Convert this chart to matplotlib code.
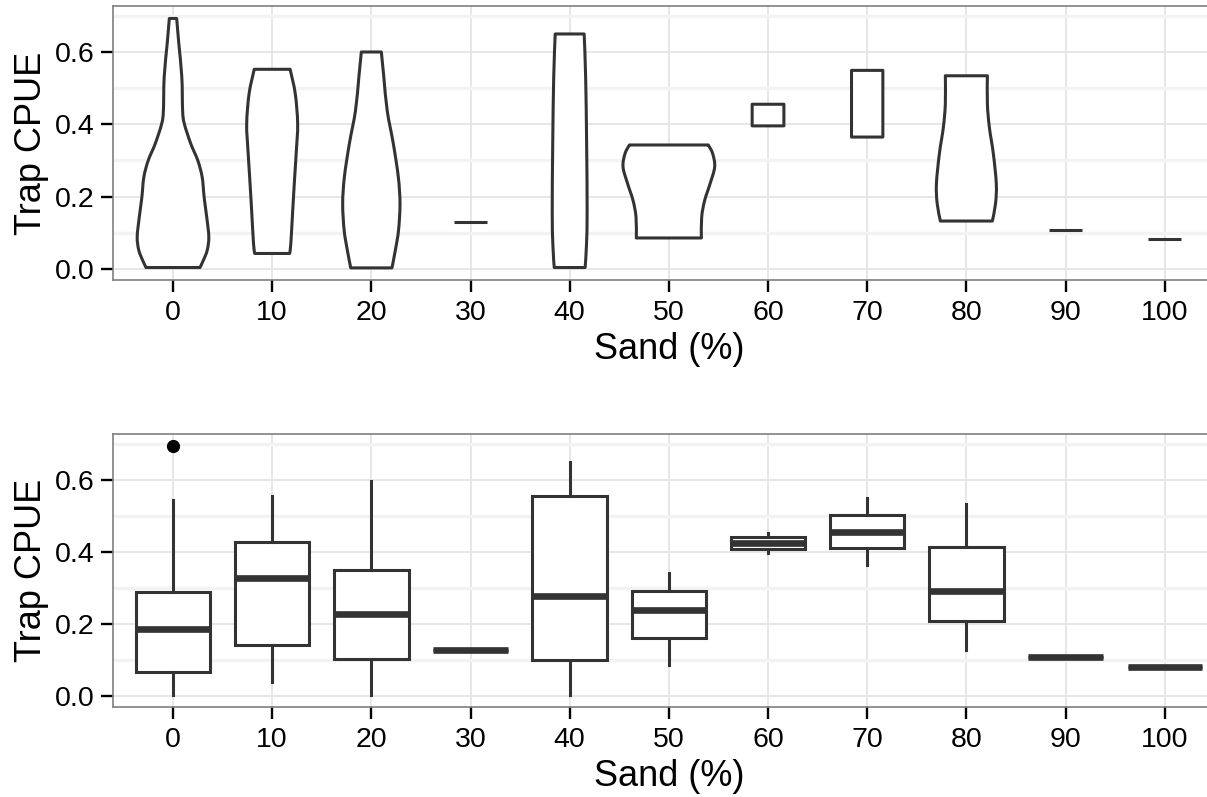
import matplotlib
matplotlib.use("Agg")
import matplotlib.pyplot as plt
from matplotlib.path import Path
from matplotlib.patches import PathPatch
import numpy as np

plt.rcParams["font.family"] = ["Liberation Sans", "DejaVu Sans"]

# Sand content categories (%)
sand_levels = ["0", "10", "20", "30", "40", "50", "60", "70", "80", "90", "100"]

# Violin outlines: CPUE levels (bottom -> top) and half-widths (category units)
violin_levels = [
    [0.003, 0.023, 0.051, 0.088, 0.143, 0.198, 0.254, 0.300, 0.346, 0.402, 0.438, 0.531, 0.623, 0.694],
    [0.042, 0.069, 0.161, 0.254, 0.328, 0.402, 0.485, 0.553],
    [0.002, 0.051, 0.106, 0.180, 0.254, 0.346, 0.438, 0.531, 0.601],
    [0.128],
    [0.003, 0.069, 0.161, 0.346, 0.531, 0.651],
    [0.085, 0.143, 0.189, 0.235, 0.282, 0.319, 0.343],
    [0.396, 0.426, 0.456],
    [0.365, 0.458, 0.550],
    [0.132, 0.180, 0.235, 0.319, 0.392, 0.457, 0.535],
    [0.107],
    [0.081],
]
violin_halfwidths = [
    [0.272, 0.306, 0.345, 0.361, 0.340, 0.314, 0.294, 0.250, 0.180, 0.114, 0.097, 0.089, 0.059, 0.037],
    [0.176, 0.188, 0.207, 0.227, 0.244, 0.257, 0.233, 0.181],
    [0.208, 0.242, 0.274, 0.289, 0.272, 0.222, 0.160, 0.126, 0.101],
    [0.166],
    [0.156, 0.170, 0.176, 0.171, 0.161, 0.146],
    [0.328, 0.331, 0.361, 0.415, 0.462, 0.442, 0.398],
    [0.160, 0.160, 0.160],
    [0.158, 0.158, 0.158],
    [0.262, 0.294, 0.302, 0.272, 0.232, 0.212, 0.212],
    [0.166],
    [0.166],
]

# Boxplot summaries
box_whislo = [0.003, 0.038, 0.003, 0.128, 0.003, 0.084, 0.398, 0.365, 0.128, 0.107, 0.081]
box_q1     = [0.066, 0.141, 0.101, 0.128, 0.100, 0.160, 0.409, 0.410, 0.209, 0.107, 0.081]
box_median = [0.185, 0.327, 0.226, 0.128, 0.278, 0.238, 0.426, 0.457, 0.292, 0.107, 0.081]
box_q3     = [0.289, 0.428, 0.350, 0.128, 0.555, 0.291, 0.443, 0.503, 0.414, 0.107, 0.081]
box_whishi = [0.544, 0.555, 0.599, 0.128, 0.652, 0.342, 0.452, 0.549, 0.535, 0.107, 0.081]
box_fliers = [[0.694], [], [], [], [], [], [], [], [], [], []]

LINE = "#333333"
LW = 2.2
YLIM = (-0.0316, 0.7286)

fig = plt.figure(figsize=(12.07, 7.97), dpi=100)
W, H = 1207.0, 797.0
ax_top = fig.add_axes([113.5 / W, 1 - 280 / H, 1110.7 / W, 274 / H])
ax_bot = fig.add_axes([113.5 / W, 1 - 707 / H, 1110.7 / W, 273 / H])


def style_axes(ax):
    ax.set_xlim(-0.6, len(sand_levels) - 0.4)
    ax.set_ylim(*YLIM)
    ax.set_xticks(range(len(sand_levels)))
    ax.set_xticklabels(sand_levels)
    ax.set_yticks([0.0, 0.2, 0.4, 0.6])
    ax.set_yticklabels(["0.0", "0.2", "0.4", "0.6"])
    ax.set_yticks([0.1, 0.3, 0.5, 0.7], minor=True)
    ax.grid(True, which="minor", axis="y", color="#F3F3F3", lw=2.4, zorder=0)
    ax.grid(True, which="major", axis="both", color="#E3E3E3", lw=1.2, zorder=0)
    ax.set_axisbelow(True)
    for s in ax.spines.values():
        s.set_color("#7F7F7F")
        s.set_linewidth(1.2)
    ax.tick_params(axis="both", which="major", length=8.5, width=1.7,
                   color="black", labelsize=20.5, labelcolor="black", pad=5)
    ax.tick_params(axis="x", which="major", pad=6)
    ax.tick_params(axis="both", which="minor", length=0)
    ax.set_xlabel("Sand (%)", fontsize=26, labelpad=4)
    ax.set_ylabel("Trap CPUE", fontsize=26, labelpad=4)


for ax in (ax_top, ax_bot):
    style_axes(ax)


def violin_path(center, levels, halfwidths):
    """Closed outline: smooth sides (Catmull-Rom as cubic Beziers), flat ends."""
    verts, codes = [], []
    sides = ((center + halfwidths, levels),
             ((center - halfwidths)[::-1], levels[::-1]))
    for side_x, side_y in sides:
        pts = np.column_stack([side_x, side_y])
        m = len(pts)
        verts.append(pts[0])
        codes.append(Path.MOVETO if not codes else Path.LINETO)
        for k in range(m - 1):
            p0 = pts[max(k - 1, 0)]
            p1 = pts[k]
            p2 = pts[k + 1]
            p3 = pts[min(k + 2, m - 1)]
            verts += [p1 + (p2 - p0) / 6.0, p2 - (p3 - p1) / 6.0, p2]
            codes += [Path.CURVE4] * 3
    verts.append(verts[0])
    codes.append(Path.CLOSEPOLY)
    return Path(verts, codes)


# Violins
for i, (lv, hw) in enumerate(zip(violin_levels, violin_halfwidths)):
    lv = np.asarray(lv, dtype=float)
    hw = np.asarray(hw, dtype=float)
    if len(lv) == 1:
        ax_top.plot([i - hw[0], i + hw[0]], [lv[0], lv[0]], color=LINE, lw=LW,
                    solid_capstyle="butt", zorder=3)
        continue
    ax_top.add_patch(PathPatch(violin_path(i, lv, hw), facecolor="white",
                               edgecolor=LINE, lw=LW, joinstyle="round", zorder=3))

# Boxplots
stats = []
for k in range(len(sand_levels)):
    stats.append(dict(whislo=box_whislo[k], q1=box_q1[k], med=box_median[k],
                      q3=box_q3[k], whishi=box_whishi[k], fliers=box_fliers[k]))
ax_bot.bxp(stats, positions=range(len(sand_levels)), widths=0.75,
           showcaps=False, patch_artist=True, manage_ticks=False,
           boxprops=dict(facecolor="white", edgecolor=LINE, lw=LW),
           whiskerprops=dict(color=LINE, lw=LW),
           medianprops=dict(color=LINE, lw=4.8, solid_capstyle="butt"),
           flierprops=dict(marker="o", markerfacecolor="black",
                           markeredgecolor="black", markersize=8.5))

fig.savefig("out.png", dpi=100)
